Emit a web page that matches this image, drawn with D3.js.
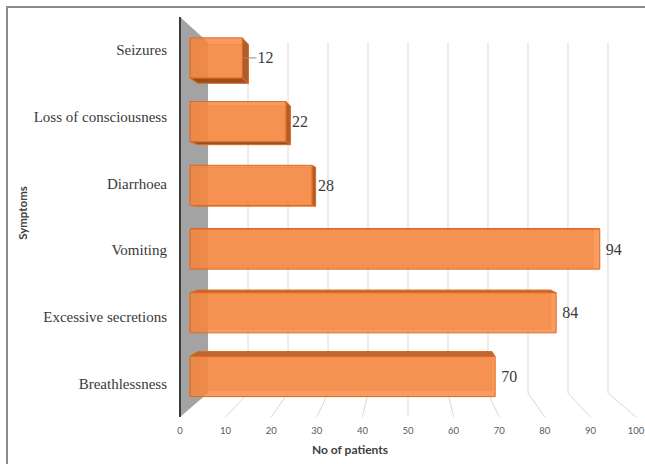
<!DOCTYPE html>
<html>
<head>
<meta charset="utf-8">
<script src="https://cdn.jsdelivr.net/npm/d3@7/dist/d3.min.js"></script>
<style>
  html, body { margin: 0; padding: 0; background: #fff; }
  svg { display: block; }
</style>
</head>
<body>
<script>
// Symptoms reported and number of patients
const categories = ["Seizures", "Loss of consciousness", "Diarrhoea", "Vomiting", "Excessive secretions", "Breathlessness"];
const patients = [12, 22, 28, 94, 84, 70];
const xTicks = [0, 10, 20, 30, 40, 50, 60, 70, 80, 90, 100];

const W = 645, H = 464;
const svg = d3.select("body").append("svg").attr("width", W).attr("height", H);

// Front plane scales
const x = d3.scaleLinear().domain([0, 100]).range([180, 636]);
const y = d3.scaleBand().domain(categories).range([17, 417]).paddingInner(0.37).paddingOuter(0.185);

// Simple one-point perspective: depth z in [0,1] shrinks toward the vanishing point
const VX = 408, VY = 222, K = 0.123;
function proj(xf, yf, z) {
  const s = 1 - K * z;
  return [VX + (xf - VX) * s, VY + (yf - VY) * s];
}
const poly = pts => "M" + pts.map(p => p.join(",")).join("L") + "Z";

// Outer frame (top and left edges)
svg.append("path").attr("d", `M7,${H}L7,7L${W},7`).attr("fill", "none")
  .attr("stroke", "#8c8c8c").attr("stroke-width", 2);

const yTop = 17, yBot = 417;

// Back wall gridlines and floor gridlines
const grid = svg.append("g").attr("stroke", "#d9d9d9").attr("stroke-width", 1).attr("fill", "none");
xTicks.filter(v => v > 0).forEach(v => {
  const a = proj(x(v), yTop, 1), b = proj(x(v), yBot, 1), c = proj(x(v), yBot, 0);
  grid.append("path").attr("d", `M${a}L${b}L${c}`);
});

// Left wall (category axis plane)
svg.append("path")
  .attr("d", poly([proj(x(0), yTop, 0), proj(x(0), yTop, 1), proj(x(0), yBot, 1), proj(x(0), yBot, 0)]))
  .attr("fill", "#a3a3a3");
svg.append("line")
  .attr("x1", x(0)).attr("x2", x(0)).attr("y1", yTop).attr("y2", yBot)
  .attr("stroke", "#3a3a3a").attr("stroke-width", 2);

// Bars drawn as translucent boxes
const z0 = 0.36, z1 = 0.64;
const edge = "#e0691f";
const bars = svg.append("g");
categories.forEach((cat, i) => {
  const v = patients[i];
  const xa = x(0), xb = x(v);
  const ya = y(cat), yb = y(cat) + y.bandwidth();
  const P = (xf, yf, z) => proj(xf, yf, z);
  const g = bars.append("g").attr("stroke", edge).attr("stroke-width", 1).attr("stroke-linejoin", "round");
  // back face
  g.append("path").attr("d", poly([P(xa, ya, z1), P(xb, ya, z1), P(xb, yb, z1), P(xa, yb, z1)]))
    .attr("fill", "#f08a47").attr("fill-opacity", 0.5).attr("stroke-opacity", 0.6);
  // left end face
  g.append("path").attr("d", poly([P(xa, ya, z0), P(xa, ya, z1), P(xa, yb, z1), P(xa, yb, z0)]))
    .attr("fill", "#d97838").attr("fill-opacity", 0.4).attr("stroke-opacity", 0.6);
  // top or bottom face, whichever faces the viewer
  if (ya > VY) {
    g.append("path").attr("d", poly([P(xa, ya, z0), P(xb, ya, z0), P(xb, ya, z1), P(xa, ya, z1)]))
      .attr("fill", "#b8632c").attr("fill-opacity", 0.95);
  }
  if (yb < VY) {
    g.append("path").attr("d", poly([P(xa, yb, z0), P(xb, yb, z0), P(xb, yb, z1), P(xa, yb, z1)]))
      .attr("fill", "#8f4a1e").attr("fill-opacity", 0.95);
  }
  // right end face, visible when left of the vanishing point
  if (xb < VX) {
    g.append("path").attr("d", poly([P(xb, ya, z0), P(xb, ya, z1), P(xb, yb, z1), P(xb, yb, z0)]))
      .attr("fill", "#a85a28").attr("fill-opacity", 0.95);
  }
  // front face
  g.append("path").attr("d", poly([P(xa, ya, z0), P(xb, ya, z0), P(xb, yb, z0), P(xa, yb, z0)]))
    .attr("fill", "#f5873f").attr("fill-opacity", 0.82);
});

// Category labels
svg.append("g").selectAll("text").data(categories).join("text")
  .attr("x", 167).attr("y", d => y(d) + y.bandwidth() / 2)
  .attr("text-anchor", "end").attr("dominant-baseline", "central")
  .attr("font-family", "'Liberation Serif', 'Times New Roman', serif").attr("font-size", 15)
  .attr("fill", "#3a3a3a").text(d => d);

// Value labels beside each bar
const labelNudge = { Seizures: 9 };
const vl = svg.append("g");
categories.forEach((cat, i) => {
  const v = patients[i];
  const cy = y(cat) + y.bandwidth() / 2;
  const end = proj(x(v), cy, z0);
  const nudge = labelNudge[cat] || 0;
  const lx = end[0] + 6 + nudge;
  if (nudge) {
    vl.append("line").attr("x1", end[0]).attr("x2", lx - 1).attr("y1", end[1]).attr("y2", end[1])
      .attr("stroke", "#8c8c8c").attr("stroke-width", 1);
  }
  vl.append("text").attr("x", lx).attr("y", end[1])
    .attr("dominant-baseline", "central")
    .attr("font-family", "'Liberation Serif', 'Times New Roman', serif").attr("font-size", 16)
    .attr("fill", "#3a3a3a").text(v);
});

// Value axis tick labels along the front floor edge
svg.append("g").selectAll("text").data(xTicks).join("text")
  .attr("x", d => x(d)).attr("y", 430)
  .attr("text-anchor", "middle").attr("dominant-baseline", "central")
  .attr("font-family", "Lato, 'Open Sans', sans-serif").attr("font-size", 9.5)
  .attr("fill", "#595959").text(d => d);

// Axis titles
svg.append("text").attr("x", 350).attr("y", 449)
  .attr("text-anchor", "middle").attr("dominant-baseline", "central")
  .attr("font-family", "Lato, 'Open Sans', sans-serif").attr("font-weight", "bold").attr("font-size", 12)
  .attr("fill", "#404040").text("No of patients");
svg.append("text").attr("transform", "translate(22,213) rotate(-90)")
  .attr("text-anchor", "middle").attr("dominant-baseline", "central")
  .attr("font-family", "Lato, 'Open Sans', sans-serif").attr("font-weight", "bold").attr("font-size", 11.5)
  .attr("fill", "#404040").text("Symptoms");
</script>
</body>
</html>
